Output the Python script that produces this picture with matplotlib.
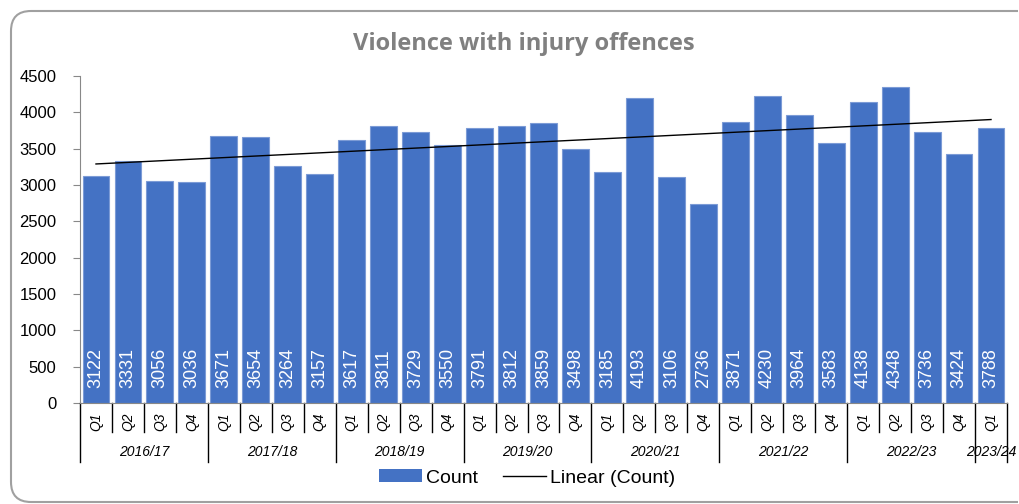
import numpy as np
import matplotlib.pyplot as plt
import matplotlib.transforms as mtransforms
from matplotlib.patches import Patch, PathPatch
from matplotlib.path import Path
from matplotlib.lines import Line2D

# Data
quarters = ["Q1", "Q2", "Q3", "Q4"] * 7 + ["Q1"]
years = ["2016/17", "2017/18", "2018/19", "2019/20", "2020/21", "2021/22", "2022/23", "2023/24"]
year_sizes = [4, 4, 4, 4, 4, 4, 4, 1]
counts = [3122, 3331, 3056, 3036, 3671, 3654, 3264, 3157, 3617, 3811, 3729, 3550,
          3791, 3812, 3859, 3498, 3185, 4193, 3106, 2736, 3871, 4230, 3964, 3583,
          4138, 4348, 3736, 3424, 3788]

plt.rcParams['font.family'] = ['Liberation Sans', 'DejaVu Sans']

fig = plt.figure(figsize=(10.19, 5.04), dpi=100)
ax = fig.add_axes([80/1019, 1-403/504, 927/1019, 327/504])

x = np.arange(len(counts))
blue = "#4472C4"
ax.bar(x, counts, width=0.84, color=blue, edgecolor="#7c9bd6", linewidth=0.8, zorder=2)

# value labels inside bars
for xi, v in zip(x, counts):
    ax.text(xi, 200, str(v), rotation=90, ha="center", va="bottom",
            color="white", fontsize=13, zorder=3)

# linear trend
coef = np.polyfit(x, counts, 1)
ax.plot([x[0], x[-1]], np.polyval(coef, [x[0], x[-1]]), color="black", lw=1, zorder=4)

ax.set_xlim(-0.5, len(counts) - 0.5)
ax.set_ylim(0, 4500)
ax.set_yticks(range(0, 4501, 500))
ax.tick_params(axis="y", labelsize=12, length=5, color="#888888", pad=12)
ax.set_xticks([])
for s in ["top", "right"]:
    ax.spines[s].set_visible(False)
ax.spines["left"].set_color("#888888")
ax.spines["bottom"].set_color("#888888")

# multi-level category axis
trans = mtransforms.blended_transform_factory(ax.transData, ax.transAxes)
q_bot = -29/327
y_bot = -59/327
for xi, q in zip(x, quarters):
    ax.text(xi, -19/327, q, rotation=90, ha="center", va="center",
            style="italic", fontsize=10, transform=trans)
bounds = np.concatenate([[0], np.cumsum(year_sizes)]) - 0.5
for i in range(len(counts) + 1):
    b = i - 0.5
    lo = y_bot if b in bounds else q_bot
    ax.plot([b, b], [0, lo], color="black", lw=1, transform=trans, clip_on=False)
for yr, a, b in zip(years, bounds[:-1], bounds[1:]):
    ax.text((a + b) / 2, -49/327, yr, ha="center", va="center",
            style="italic", fontsize=10, transform=trans)

# title
fig.text(524/1019, 1-44/504, "Violence with injury offences", ha="center", va="center",
         fontsize=17, fontweight="bold", color="#808080", family="Open Sans")

# legend
handles = [Patch(facecolor=blue), Line2D([0], [0], color="black", lw=1)]
fig.legend(handles, ["Count", "Linear (Count)"], loc="center",
           bbox_to_anchor=(527/1019, 1-478/504), ncol=2, frameon=False,
           fontsize=14, handlelength=2.2, handleheight=0.6,
           handletextpad=0.2, columnspacing=1.3)

# rounded border, open on the right (pixel coordinates)
l, b0, t, r, rad = 11, 2, 493, 1018, 20
verts = [(r, t), (l + rad, t), (l, t), (l, t - rad), (l, b0 + rad), (l, b0), (l + rad, b0), (r, b0)]
codes = [Path.MOVETO, Path.LINETO, Path.CURVE3, Path.CURVE3, Path.LINETO,
         Path.CURVE3, Path.CURVE3, Path.LINETO]
border = PathPatch(Path(verts, codes), transform=mtransforms.IdentityTransform(),
                   fill=False, edgecolor="#a0a0a0", lw=1.5, capstyle="butt")
fig.patches.append(border)

fig.savefig("out.png", dpi=100)
